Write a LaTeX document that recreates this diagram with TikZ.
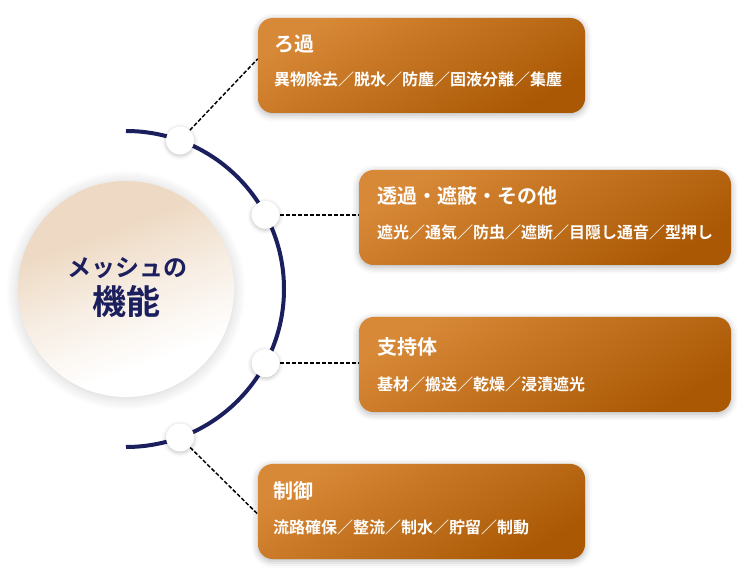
\documentclass[tikz,border=0pt]{standalone}
\usepackage{fontspec}
\newfontfamily\jpfont{Noto Sans CJK JP}[BoldFont={Noto Sans CJK JP Bold}]
\usetikzlibrary{positioning,shadows.blur}
\definecolor{meshNavy}{RGB}{27,31,94}
\definecolor{boxLight}{RGB}{220,141,59}
\definecolor{boxDark}{RGB}{170,88,4}
\definecolor{hubBeige}{RGB}{238,218,196}
% hub fill: beige above, white below
\pgfdeclareverticalshading{hubshade}{100bp}{color(0bp)=(white); color(32bp)=(white); color(48bp)=(hubBeige!45); color(64bp)=(hubBeige); color(100bp)=(hubBeige)}
\tikzset{
  usebox/.style={rectangle, rounded corners=11pt, minimum height=71.25pt, inner sep=0pt,
    top color=boxLight!92!boxDark, middle color=boxLight, bottom color=boxDark, shading angle=30,
    blur shadow={shadow xshift=0pt, shadow yshift=-1.5pt, shadow blur radius=5pt, shadow opacity=30}},
  usettl/.style={anchor=west, inner sep=0pt, text=white, font=\jpfont\bfseries\fontsize{15pt}{15pt}\selectfont},
  usetxt/.style={anchor=west, inner sep=0pt, text=white, font=\jpfont\bfseries\fontsize{12pt}{12pt}\selectfont},
  joint/.style={circle, fill=white, minimum size=21pt, inner sep=0pt,
    blur shadow={shadow xshift=0pt, shadow yshift=-1pt, shadow blur radius=3pt, shadow opacity=25}},
  link/.style={line width=1.1pt, dash pattern=on 3pt off 1.5pt},
}
\begin{document}
\begin{tikzpicture}[x=0.75pt, y=0.75pt]
\useasboundingbox (0,0) rectangle (749,578);
% hub
\node[circle, minimum size=162pt, inner sep=0pt, shading=hubshade, shading angle=20,
  blur shadow={shadow xshift=0pt, shadow yshift=-1pt, shadow blur radius=9pt, shadow blur steps=12, shadow opacity=18}] (hub) at (126,289) {};
\node[text=meshNavy, font=\jpfont\bfseries\fontsize{18pt}{18pt}\selectfont] (hubtop) at (127,310) {メッシュの};
\node[text=meshNavy, font=\jpfont\bfseries\fontsize{25.5pt}{25.5pt}\selectfont] (hubbot) at (126,276) {機能};
% ring
\draw[meshNavy, line width=3pt] (126,447) arc[start angle=90, end angle=-90, radius=158];
% boxes
\node[usebox, minimum width=245.25pt] (filt) at (421.5,512.5) {};
\node[usebox, minimum width=279pt] (pass) at (545,360.5) {};
\node[usebox, minimum width=279pt] (supp) at (545,213.5) {};
\node[usebox, minimum width=245.25pt] (ctrl) at (421.5,66.5) {};
\foreach \b/\dx/\dt/\ds/\t/\s in {
    filt/16/26/62/ろ過/異物除去／脱水／防塵／固液分離／集塵,
    pass/18/26/63/透過・遮蔽・その他/遮光／通気／防虫／遮断／目隠し通音／型押し,
    supp/18/30/68/支持体/基材／搬送／乾燥／浸漬遮光,
    ctrl/15/27/64/制御/流路確保／整流／制水／貯留／制動} {
  \node[usettl] (\b-t) at ([shift={(\dx,-\dt)}]\b.north west) {\t};
  \node[usetxt] (\b-s) at ([shift={(\dx,-\ds)}]\b.north west) {\s};
}
% joints
\foreach \a/\n in {70/1, 28/2, -28/3, -70/4}
  \node[joint] (j\n) at ([shift={(\a:158)}]hub.center) {};
\draw[link] (j1) -- ([yshift=5pt]filt.west);
\draw[link] (j2) -- (j2 -| pass.west);
\draw[link] (j3) -- (j3 -| supp.west);
\draw[link] (j4) -- ([yshift=-2pt]ctrl.west);
\end{tikzpicture}
\end{document}
